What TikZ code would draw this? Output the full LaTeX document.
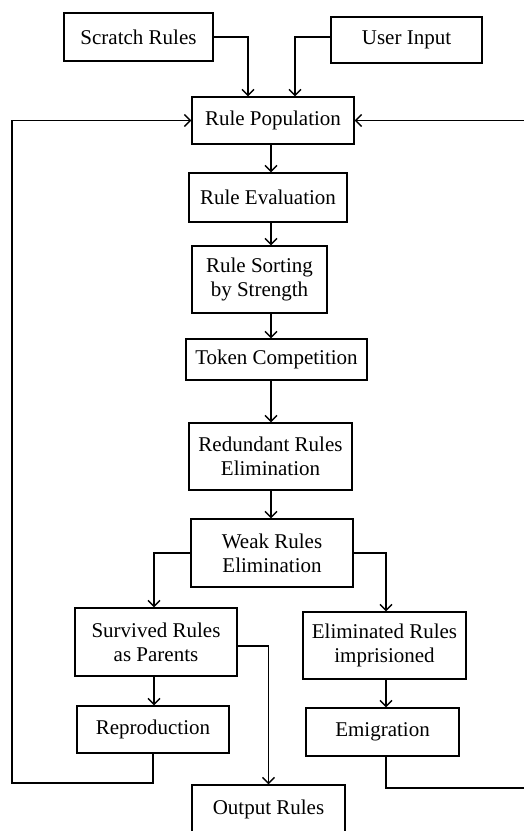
\documentclass[tikz,border=0pt]{standalone}
\usepackage{fontspec}
\setmainfont{Liberation Serif}
\usetikzlibrary{arrows.meta,calc}
\begin{document}
\begin{tikzpicture}[x=1pt,y=-1pt,
  box/.style={draw,line width=1.4pt,inner sep=0pt,align=center,
    font=\fontsize{21}{24}\selectfont},
  arr/.style={line width=1.3pt,-{Straight Barb[length=6pt,width=12pt,line width=1.3pt]}},
  ln/.style={line width=1.3pt}]
\useasboundingbox (0,0) rectangle (524,831);
\node[box,minimum width=149,minimum height=48] (scratch) at (138.5,37) {Scratch Rules};
\node[box,minimum width=151,minimum height=46] (user) at (406.5,40) {User Input};
\node[box,minimum width=162,minimum height=47] (pop) at (273,120.5) {Rule Population};
\node[box,minimum width=158,minimum height=49] (eval) at (268,197.5) {Rule Evaluation};
\node[box,minimum width=135,minimum height=67] (sort) at (259.5,279.5) {Rule Sorting\\by Strength};
\node[box,minimum width=181,minimum height=41] (token) at (276.5,359.5) {Token Competition};
\node[box,minimum width=163,minimum height=67] (redund) at (270.5,456.5) {Redundant Rules\\Elimination};
\node[box,minimum width=162,minimum height=68] (weak) at (272,553) {Weak Rules\\Elimination};
\node[box,minimum width=162,minimum height=68] (surv) at (156,642) {Survived Rules\\as Parents};
\node[box,minimum width=163,minimum height=67] (elim) at (384.5,645.5) {Eliminated Rules\\imprisioned};
\node[box,minimum width=152,minimum height=47] (repro) at (153,729.5) {Reproduction};
\node[box,minimum width=153,minimum height=48] (emig) at (382.5,732) {Emigration};
\node[box,minimum width=153,minimum height=48] (output) at (268.5,809) {Output Rules};
\coordinate (cx) at (271,0);
\coordinate (lb) at (12,783);
\coordinate (rb) at (526,788);
\coordinate (sx) at (154,0);
\coordinate (ex) at (386,0);
\draw[arr] (scratch.east) -| ($(pop.north)+(-25,0)$);
\draw[arr] (user.west |- 0,37) -| ($(pop.north)+(22,0)$);
\draw[arr] (pop.south -| cx) -- (eval.north -| cx);
\draw[arr] (eval.south -| cx) -- (sort.north -| cx);
\draw[arr] (sort.south -| cx) -- (token.north -| cx);
\draw[arr] (token.south -| cx) -- (redund.north -| cx);
\draw[arr] (redund.south -| cx) -- (weak.north -| cx);
\draw[arr] (weak.west) -| (surv.north -| sx);
\draw[arr] (weak.east) -| (elim.north -| ex);
\draw[arr] (surv.south -| sx) -- (repro.north -| sx);
\draw[arr] (elim.south -| ex) -- (emig.north -| ex);
\draw[arr] (surv.east |- 0,646) -| (output.north);
\draw[arr] (repro.south) |- (lb) |- (pop.west);
\draw[arr] (emig.south -| ex) |- (rb) |- (pop.east);
\end{tikzpicture}
\end{document}
